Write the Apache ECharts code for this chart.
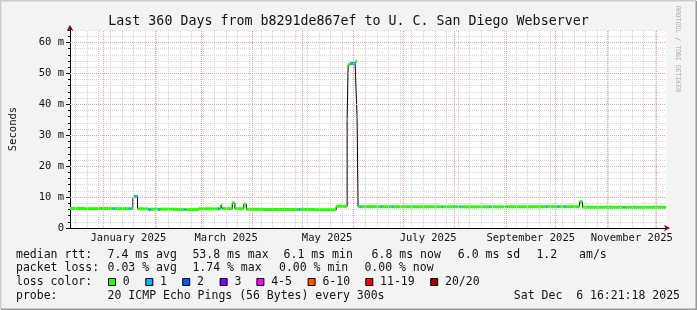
<!DOCTYPE html>
<html><head><meta charset="utf-8">
<script src="https://cdn.jsdelivr.net/npm/echarts@6/dist/echarts.min.js"></script>
<style>html,body{margin:0;padding:0;background:#f3f3f3}#c{width:697px;height:310px}</style>
</head><body><div id="c"></div><script>
// x = days since the start of the 360-day window (2024-12-11 16:21:18)
const segStart = [0,8.4,17.4,25.8,27,35.4,36.6,38,38.7,40.8,47.4,48.9,53.4,54.6,62.4,69,69.9,77.4,89.4,90.6,91.2,92.1,98,99.6,105,106.5,116.4,138,139.2,147.6,160.8,167.4,168,169.2,172.2,173.4,174,175.2,176.1,187.8,188.7,194.4,195.3,224.4,225.3,231.6,232.5,235.2,236.1,253.2,254.1,263.4,264.3,287.4,288.3,294.6,295.5,298.2,299.4,307.8,309.6,334.2,335.1];
const medianMs = [6.3,6.25,6.3,6.3,6.25,6.3,6.3,9.8,10.2,6.2,5.95,6.1,6.0,6.1,6.0,6.0,5.95,6.2,6.2,6.25,7.4,6.25,8.1,6.25,7.7,6.05,6.0,6.0,6.0,5.9,7.0,35,52.8,53.2,53.8,36,6.9,6.9,6.9,6.9,6.9,6.9,6.85,6.85,6.85,6.9,6.9,6.9,6.85,6.85,6.85,6.9,6.9,6.9,6.9,6.9,6.9,6.9,6.9,8.5,6.7,6.7,6.7];
const lossCount = [0,0,0,1,0,1,0,0,1,0,1,0,1,0,0,1,0,0,1,0,0,0,0,0,0,0,0,1,0,0,0,0,0,1,0,0,0,1,0,1,0,1,0,1,0,1,0,1,0,1,0,1,0,1,0,1,0,1,0,0,0,1,0];
const windowDays = 360;
const xLabelNames = ['January 2025','March 2025','May 2025','July 2025','September 2025','November 2025'];
const xLabelDates = [[2025,1,16],[2025,3,16],[2025,5,16],[2025,7,16],[2025,9,16],[2025,11,16]];
const yTickValues = [0,10,20,30,40,50,60];
const lossNames = ['0','1','2','3','4-5','6-10','11-19','20/20'];
const lossUpper = [0,1,2,3,5,10,19,20];
const lossColors = ['#26ff00','#00b8ff','#0059ff','#7e00ff','#ff00ff','#ff5500','#ff0000','#a10000'];

const T0 = Date.UTC(2024,11,11,16,21,18);
const dayOf = (y,m,d) => (Date.UTC(y,m-1,d) - T0)/864e5;
const xLabelDays = xLabelDates.map(a => dayOf(a[0],a[1],a[2]));
const monthDays = []; for (let m=1;m<=12;m++) monthDays.push(dayOf(2025,m,1));
const weekDays = []; for (let d=dayOf(2024,12,15); d<windowDays; d+=7) weekDays.push(d);
const lossColor = l => { for (let i=0;i<lossUpper.length;i++) if (l<=lossUpper[i]) return lossColors[i]; return lossColors[lossColors.length-1]; };

const segs = segStart.map((s,i)=>[s, i<segStart.length-1?segStart[i+1]:windowDays, medianMs[i], lossCount[i]]);
const stepLine = []; segs.forEach(s=>{stepLine.push([s[0],s[2]]); stepLine.push([s[1],s[2]]);});

const F = "'DejaVu Sans Mono', monospace";
const chart = echarts.init(document.getElementById('c'), null, {renderer:'canvas'});
const legendItems = [];
const txt = (x,y,t,align) => legendItems.push({type:'text', x, y, style:{text:t, font:"11.5px "+F, fill:'#111', verticalAlign:'middle', align:align||'left'}});
txt(16,255,'median rtt:'); txt(107.6,255,'7.4 ms avg'); txt(192.4,255,'53.8 ms max'); txt(283.6,255,'6.1 ms min'); txt(371.6,255,'6.8 ms now'); txt(457.8,255,'6.0 ms sd'); txt(536.4,255,'1.2'); txt(579.1,255,'am/s');
txt(16,268.5,'packet loss:'); txt(107.6,268.5,'0.03 % avg'); txt(192.4,268.5,'1.74 % max'); txt(279,268.5,'0.00 % min'); txt(364.4,268.5,'0.00 % now');
txt(16,282.5,'loss color:');
const boxX = [108,145.3,182.2,219.6,256.4,307.6,365.3,430.2];
lossNames.forEach((n,i)=>{
  legendItems.push({type:'rect', shape:{x:boxX[i]+0.5, y:278.5, width:7, height:7}, style:{fill:lossColors[i], stroke:'#000', lineWidth:1}});
  txt(boxX[i]+14.8,282.5,n);
});
txt(16,296,'probe:'); txt(107.6,296,'20 ICMP Echo Pings (56 Bytes) every 300s');
txt(680,296,'Sat Dec  6 16:21:18 2025','right');
legendItems.push({type:'text', x:678, y:6, rotation:-Math.PI/2, style:{text:'RRDTOOL / TOBI OETIKER', font:"6.5px "+F, fill:'#aaaaaa', verticalAlign:'middle', align:'left'}});
legendItems.push({type:'polyline', shape:{points:[[0.75,309],[0.75,0.75],[696,0.75]]}, style:{stroke:'#cbcbcb', lineWidth:1.5, fill:null}});
legendItems.push({type:'polyline', shape:{points:[[1,309.25],[696.25,309.25],[696.25,1]]}, style:{stroke:'#999999', lineWidth:1.5, fill:null}});

chart.setOption({
  animation:false,
  backgroundColor:'#f3f3f3',
  title:{text:'Last 360 Days from b8291de867ef to U. C. San Diego Webserver', left:'center', top:10, textStyle:{fontFamily:F, fontSize:13.3, fontWeight:'normal', color:'#111'}},
  grid:{left:66, top:30, width:600, height:198, backgroundColor:'#ffffff', show:true, borderWidth:0},
  xAxis:[
    {type:'value', min:0, max:windowDays, axisLine:{show:true, lineStyle:{color:'#000', width:1}}, axisTick:{show:false}, splitLine:{show:false},
     axisLabel:{customValues:xLabelDays, margin:5, fontFamily:F, fontSize:10.5, color:'#111',
       formatter:v=>{const i=xLabelDays.findIndex(d=>Math.abs(d-v)<1e-6); return i>=0?xLabelNames[i]:'';}}},
    {type:'value', min:0, max:windowDays, axisLine:{show:true, symbol:['none','arrow'], symbolSize:[5,6], symbolOffset:[0,4], lineStyle:{color:'#7f0000', width:0}}, axisTick:{show:false}, axisLabel:{show:false}, splitLine:{show:false}, position:'bottom'}
  ],
  yAxis:[
    {type:'value', min:0, max:64, interval:2, axisLine:{show:true, lineStyle:{color:'#000'}}, axisTick:{show:true, length:2, lineStyle:{color:'#000'}}, axisLabel:{show:false},
     splitLine:{show:true, lineStyle:{color:'#dadada', type:[1,1]}},
     name:'Seconds', nameLocation:'middle', nameGap:51, nameRotate:90, nameTextStyle:{fontFamily:F, fontSize:10.5, color:'#111'}},
    {type:'value', min:0, max:64, position:'left', axisLine:{show:true, symbol:['none','arrow'], symbolSize:[5,6], symbolOffset:[0,5], lineStyle:{color:'#7f0000', width:0}},
     axisTick:{show:true, customValues:yTickValues, length:4, lineStyle:{color:'#000'}},
     axisLabel:{customValues:yTickValues, margin:6, fontFamily:F, fontSize:10.5, color:'#111', formatter:v=>v===0?'0':v+' m'}, splitLine:{show:false}}
  ],
  series:[
    {type:'line', data:[], z:1, silent:true,
     markLine:{silent:true, symbol:['none','none'], label:{show:false}, animation:false,
       data:[
         ...weekDays.map(d=>({xAxis:d, lineStyle:{color:'#d4d4d4', type:[1,1], width:1}})),
         ...monthDays.map(d=>({xAxis:d, lineStyle:{color:'#e9a0a0', type:[1,1], width:1}})),
         ...yTickValues.filter(v=>v>0).map(v=>({yAxis:v, lineStyle:{color:'#e9a0a0', type:[1,1], width:1}}))
       ]}},
    {type:'line', data:stepLine, z:3, symbol:'none', lineStyle:{color:'#000', width:1}, silent:true},
    {type:'custom', z:4, silent:true, clip:true, data:segs, encode:{x:[0,1], y:2},
     renderItem:(params, api)=>{
       const p0 = api.coord([api.value(0), api.value(2)]);
       const p1 = api.coord([api.value(1), api.value(2)]);
       return {type:'rect', shape:{x:p0[0], y:p0[1]-1.5, width:Math.max(1,p1[0]-p0[0]), height:3}, style:{fill:lossColor(api.value(3))}};
     }}
  ],
  graphic:legendItems
});
</script></body></html>
